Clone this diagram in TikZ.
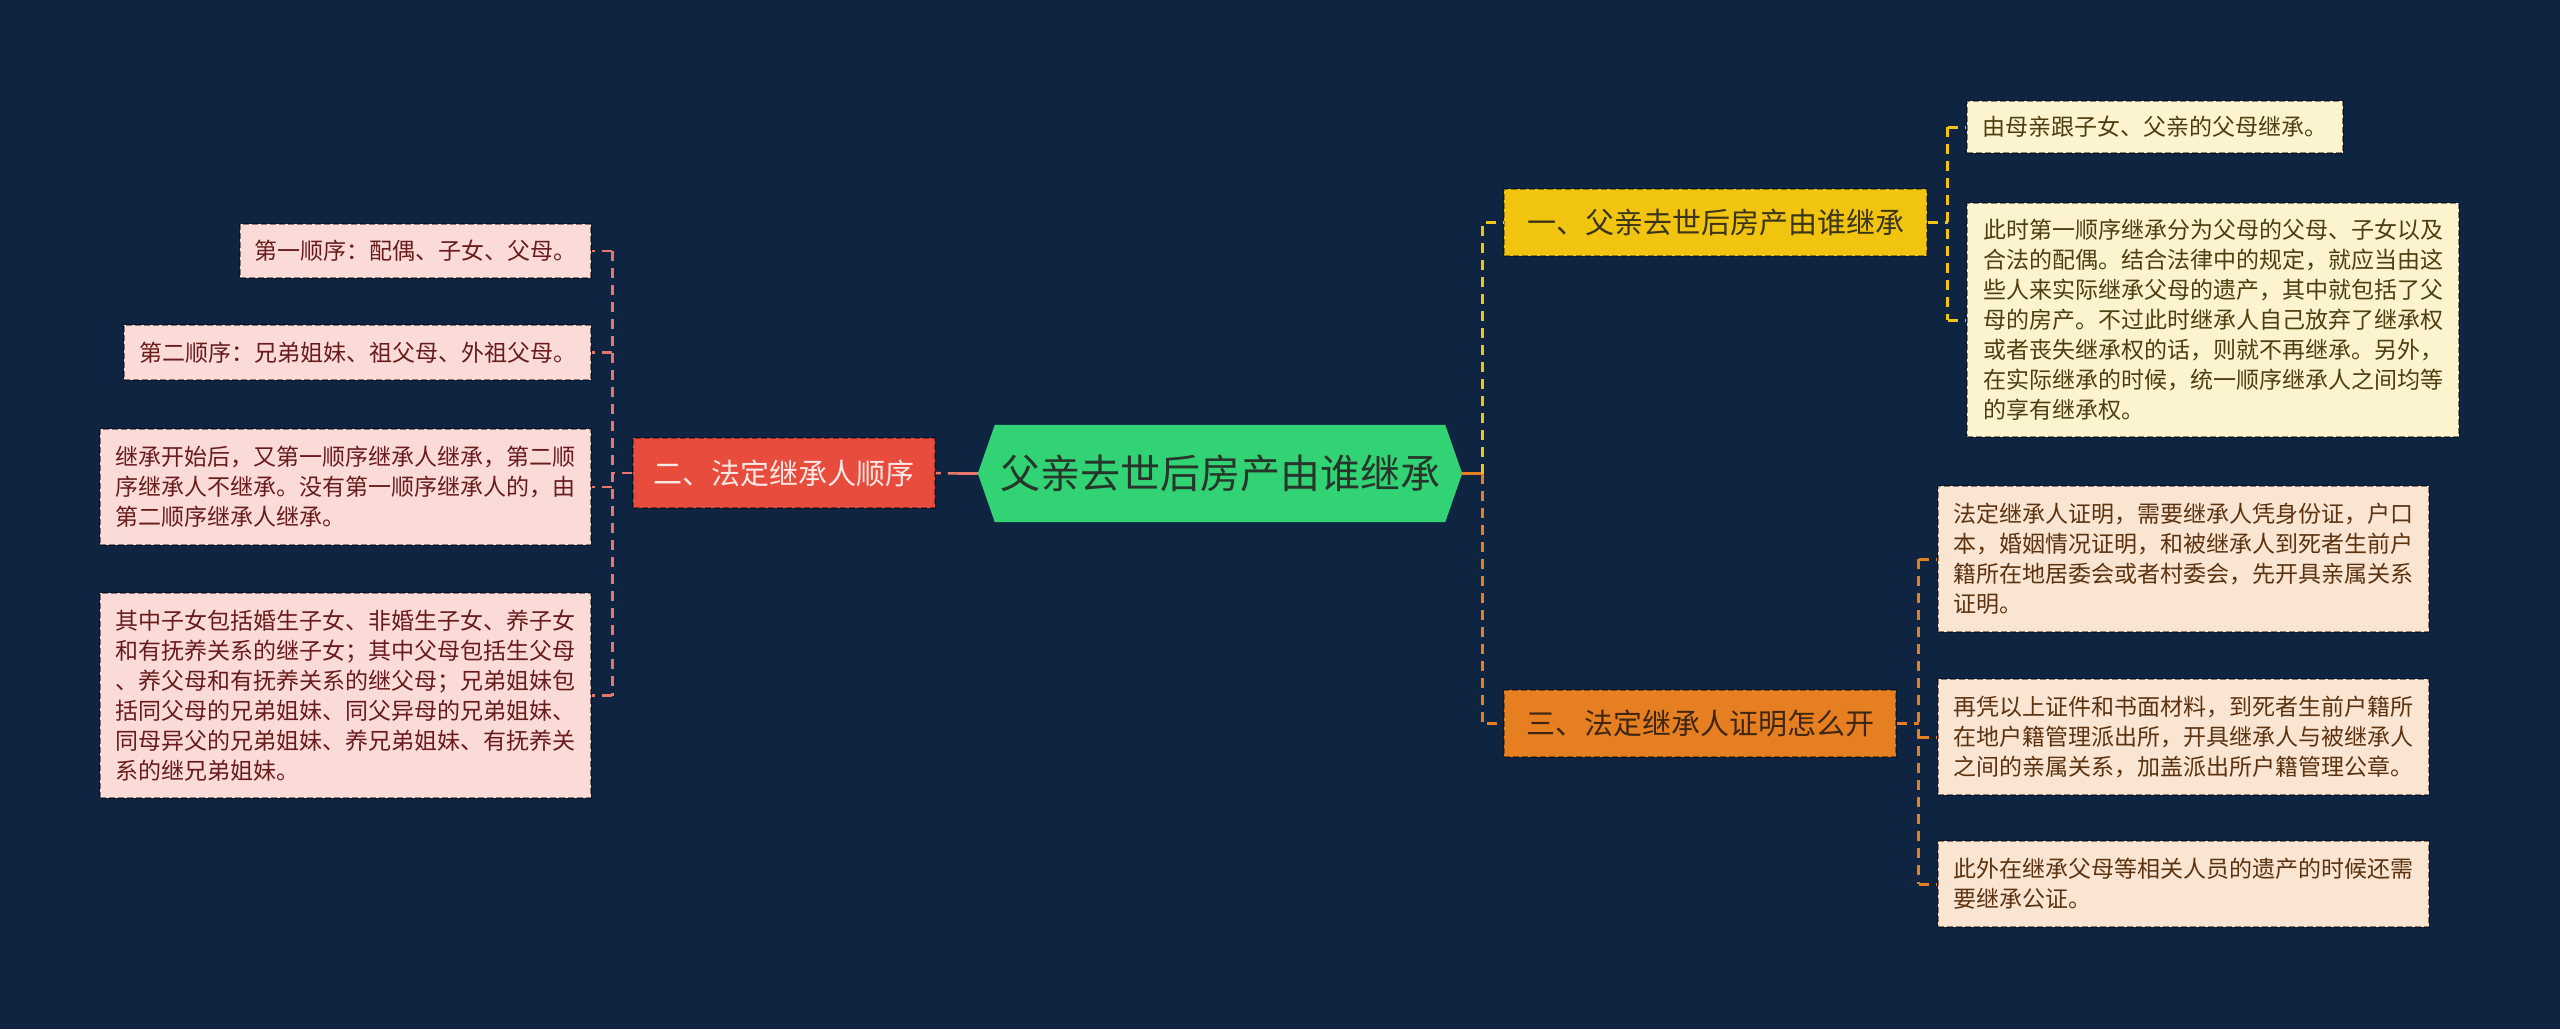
\documentclass[tikz,border=0pt]{standalone}
\usepackage{fontspec}
\newfontfamily\cjk{Noto Sans CJK SC}
\definecolor{bg}{RGB}{14,36,64}
\definecolor{cgreen}{RGB}{50,211,117}
\definecolor{ctext}{RGB}{38,54,42}
\definecolor{nred}{RGB}{232,76,61}
\definecolor{nredtext}{RGB}{252,232,228}
\definecolor{lpink}{RGB}{250,219,216}
\definecolor{ltext}{RGB}{105,28,28}
\definecolor{salmon}{RGB}{232,118,106}
\definecolor{nyel}{RGB}{241,196,15}
\definecolor{ytext}{RGB}{58,52,24}
\definecolor{ycream}{RGB}{252,243,207}
\definecolor{yltext}{RGB}{78,62,16}
\definecolor{norg}{RGB}{230,126,34}
\definecolor{otext}{RGB}{62,38,16}
\definecolor{opeach}{RGB}{250,229,211}
\definecolor{oltext}{RGB}{92,51,16}
\begin{document}
\begin{tikzpicture}[x=1pt,y=-1pt,
  leaf/.style={draw=black, draw opacity=0.45, dash pattern=on 6pt off 3pt, line width=1.5pt,
    inner sep=0pt, align=left, font=\cjk\fontsize{23}{30}\selectfont},
  lbox/.style={leaf, fill=lpink, text=ltext},
  ybox/.style={leaf, fill=ycream, text=yltext},
  obox/.style={leaf, fill=opeach, text=oltext},
  mainbox/.style={draw=black, draw opacity=0.4, dash pattern=on 6pt off 3pt, line width=1.5pt,
    inner sep=0pt, font=\cjk\fontsize{29}{34}\selectfont, minimum height=67pt},
  lconn/.style={draw=salmon, line width=2.5pt, dash pattern=on 10pt off 7pt},
  yconn/.style={draw=nyel, line width=3pt, dash pattern=on 10pt off 7pt},
  oconn/.style={draw=norg, line width=3pt, dash pattern=on 10pt off 7pt},
  lsolid/.style={draw=salmon, line width=3pt},
  osolid/.style={draw=norg, line width=3pt}
]
\fill[bg] (0,0) rectangle (2560,1029);
\useasboundingbox (0,0) rectangle (2560,1029);

% center
\node[minimum width=484pt, minimum height=97pt, inner sep=0pt] (c) at (1220,473.5) {};
\fill[cgreen] (c.west) -- ([xshift=17pt]c.north west) -- ([xshift=-17pt]c.north east) -- (c.east)
  -- ([xshift=-17pt]c.south east) -- ([xshift=17pt]c.south west) -- cycle;
\node[font=\cjk\fontsize{40}{46}\selectfont, text=ctext, inner sep=0pt] (ct) at (c.center) {父亲去世后房产由谁继承};

% main branches
\node[mainbox, fill=nred, text=nredtext, minimum width=302pt, minimum height=70pt] (n2) at (784,473) {二、法定继承人顺序};
\node[mainbox, fill=nyel, text=ytext, minimum width=423pt] (ny) at (1715.5,222.5) {一、父亲去世后房产由谁继承};
\node[mainbox, fill=norg, text=otext, minimum width=392pt] (no) at (1700,723.5) {三、法定继承人证明怎么开};

% left leaves
\node[lbox, minimum width=351pt, minimum height=54pt] (b1) at (415.5,251) {第一顺序：配偶、子女、父母。};
\node[lbox, minimum width=467pt, minimum height=55pt] (b2) at (357.5,352.5) {第二顺序：兄弟姐妹、祖父母、外祖父母。};
\node[lbox, minimum width=491pt, minimum height=116pt] (b3) at (345.5,487) {继承开始后，又第一顺序继承人继承，第二顺\\序继承人不继承。没有第一顺序继承人的，由\\第二顺序继承人继承。};
\node[lbox, minimum width=491pt, minimum height=205pt] (b4) at (345.5,695.5) {其中子女包括婚生子女、非婚生子女、养子女\\和有抚养关系的继子女；其中父母包括生父母\\、养父母和有抚养关系的继父母；兄弟姐妹包\\括同父母的兄弟姐妹、同父异母的兄弟姐妹、\\同母异父的兄弟姐妹、养兄弟姐妹、有抚养关\\系的继兄弟姐妹。};

% yellow leaves
\node[ybox, minimum width=376pt, minimum height=52pt] (y1) at (2155,127) {由母亲跟子女、父亲的父母继承。};
\node[ybox, minimum width=492pt, minimum height=234pt] (y2) at (2213,320) {此时第一顺序继承分为父母的父母、子女以及\\合法的配偶。结合法律中的规定，就应当由这\\些人来实际继承父母的遗产，其中就包括了父\\母的房产。不过此时继承人自己放弃了继承权\\或者丧失继承权的话，则就不再继承。另外，\\在实际继承的时候，统一顺序继承人之间均等\\的享有继承权。};

% orange leaves
\node[obox, minimum width=491pt, minimum height=146pt] (o1) at (2183.5,559) {法定继承人证明，需要继承人凭身份证，户口\\本，婚姻情况证明，和被继承人到死者生前户\\籍所在地居委会或者村委会，先开具亲属关系\\证明。};
\node[obox, minimum width=491pt, minimum height=116pt] (o2) at (2183.5,737) {再凭以上证件和书面材料，到死者生前户籍所\\在地户籍管理派出所，开具继承人与被继承人\\之间的亲属关系，加盖派出所户籍管理公章。};
\node[obox, minimum width=491pt, minimum height=86pt] (o3) at (2183.5,884) {此外在继承父母等相关人员的遗产的时候还需\\要继承公证。};

% connectors: center -> left
\draw[lsolid] (c.west) -- ++(-20,0) coordinate (lj);
\draw[lconn] (lj) -- (n2.east);
\draw[lconn] (n2.west) -- ++(-20,0) coordinate (lv);
\draw[lconn] (lv |- b1.east) -- (lv |- b4.east);
\foreach \b in {b1,b2,b3,b4} { \draw[lconn] (lv |- \b.east) -- (\b.east); }

% connectors: center -> right
\draw[osolid] (c.east) -- ++(20,0) coordinate (rj);
\draw[yconn] (rj) -- (rj |- ny.west) -- (ny.west);
\draw[oconn] (rj) -- (rj |- no.west) -- (no.west);

\draw[yconn] (ny.east) -- ++(20,0) coordinate (yv);
\draw[yconn] (yv |- y1.west) -- (yv |- y2.west);
\foreach \b in {y1,y2} { \draw[yconn] (yv |- \b.west) -- (\b.west); }

\draw[oconn] (no.east) -- ++(22,0) coordinate (ov);
\draw[oconn] (ov |- o1.west) -- (ov |- o3.west);
\foreach \b in {o1,o2,o3} { \draw[oconn] (ov |- \b.west) -- (\b.west); }
\end{tikzpicture}
\end{document}
